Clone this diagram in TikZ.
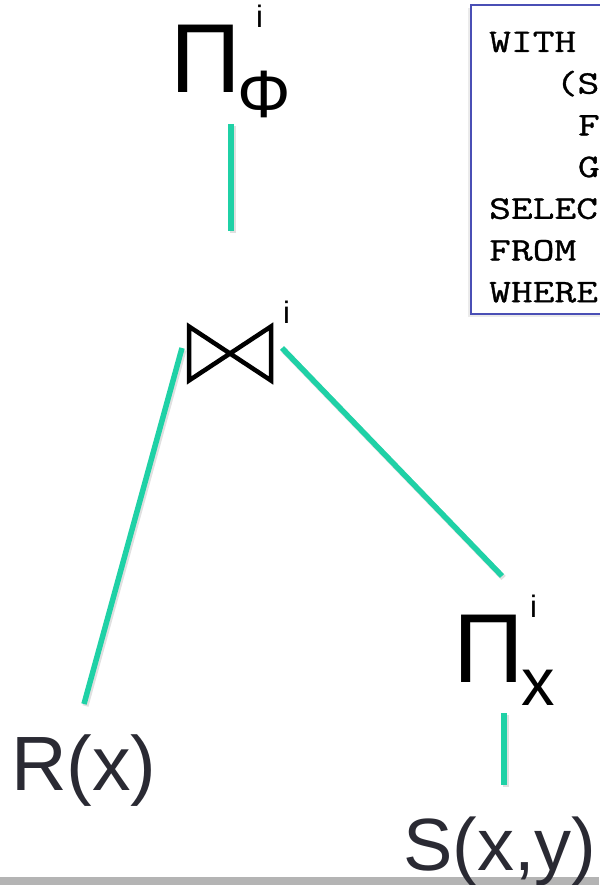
\documentclass[tikz,border=0pt]{standalone}
\usepackage{fontspec}
\setmainfont{Liberation Sans}
\newfontfamily\mono{Latin Modern Mono}[FakeBold=0.9]
\usetikzlibrary{calc}
\definecolor{tinta}{HTML}{2A2A33}
\definecolor{verde}{HTML}{1FD1A6}
\definecolor{marco}{HTML}{4A4FB5}
\definecolor{barra}{HTML}{B4B4B4}
\tikzset{
  % Aristas del plan de consulta
  arista/.style   = {line width=5.5pt, color=verde,
                     preaction={draw=black, opacity=0.12, line width=6pt,
                       transform canvas={xshift=1.5pt, yshift=-2pt}}},
  % Operadores (proyección, join) y sus índices
  operador/.style = {inner sep=0pt, anchor=base west, color=black},
  % Relaciones base en las hojas
  relacion/.style = {inner sep=0pt, anchor=base west, color=tinta},
  % Recuadro con el texto SQL
  codigo/.style   = {draw=marco, line width=1.8pt, fill=white,
                     preaction={fill=black, opacity=0.08,
                       transform canvas={xshift=-3pt, yshift=-3pt}}},
  linea/.style    = {inner sep=0pt, anchor=base west,
                     font=\mono\fontsize{33}{33}\selectfont},
}
% letra de máquina ensanchada al paso del recuadro
\newcommand{\ancho}[1]{\scalebox{1.28}[1]{#1}}

\begin{document}
\begin{tikzpicture}[x=1pt, y=-1pt]
  \useasboundingbox (0,0) rectangle (599,885);

  % ============================================================
  % Barra inferior y recuadro SQL (cortado por el borde)
  % ============================================================
  \fill[barra] (0,877) rectangle (599,885);
  \draw[codigo] (471,5) rectangle (650,314);
  \foreach \sangria/\texto [count=\k from 0] in
      {0/WITH, 3/(S, 4/F, 4/G, 0/SELEC, 0/FROM, 0/WHERE}
    \node[linea] (sql\k) at ({489+\sangria*22.2}, {52+\k*41.7}) {\ancho{\texto}};

  % ============================================================
  % Operadores
  % ============================================================
  \node[operador, font=\fontsize{98}{98}\selectfont] (piA) at (170,93) {Π};
  \node[operador, font=\fontsize{67}{67}\selectfont] (phi) at (237,118) {Φ};
  \node[operador, font=\fontsize{31}{31}\selectfont] (iA) at (256,28) {i};

  \coordinate (J) at (230,353.5);   % centro del join
  \draw[line width=4.5pt, line join=miter]
    ($(J)+(-41,-27)$) -- ($(J)+(41,27)$) -- ($(J)+(41,-27)$)
    -- ($(J)+(-41,27)$) -- cycle;
  \node[operador, font=\fontsize{31}{31}\selectfont] (iJ) at (283,323) {i};

  \node[operador, font=\fontsize{98}{98}\selectfont] (piB) at (453,682) {Π};
  \node[operador, font=\fontsize{67}{67}\selectfont] (sx) at (521,705) {x};
  \node[operador, font=\fontsize{31}{31}\selectfont] (iB) at (530,617) {i};

  % Hojas
  \node[relacion, font=\fontsize{77}{77}\selectfont] (R) at (11,790) {R(x)};
  \node[relacion, font=\fontsize{74}{74}\selectfont] (S) at (403,870) {S(x,y)};

  % ============================================================
  % Aristas
  % ============================================================
  \coordinate (a1) at (231,124);  \coordinate (a2) at (231,231);
  \coordinate (b1) at (182,348);  \coordinate (b2) at (84,704);
  \coordinate (c1) at (282,348);  \coordinate (c2) at (502,576);
  \coordinate (d1) at (504,713);  \coordinate (d2) at (504,785);
  \draw[arista] (a1) -- (a2);
  \draw[arista] (b1) -- (b2);
  \draw[arista] (c1) -- (c2);
  \draw[arista] (d1) -- (d2);

\end{tikzpicture}
\end{document}
